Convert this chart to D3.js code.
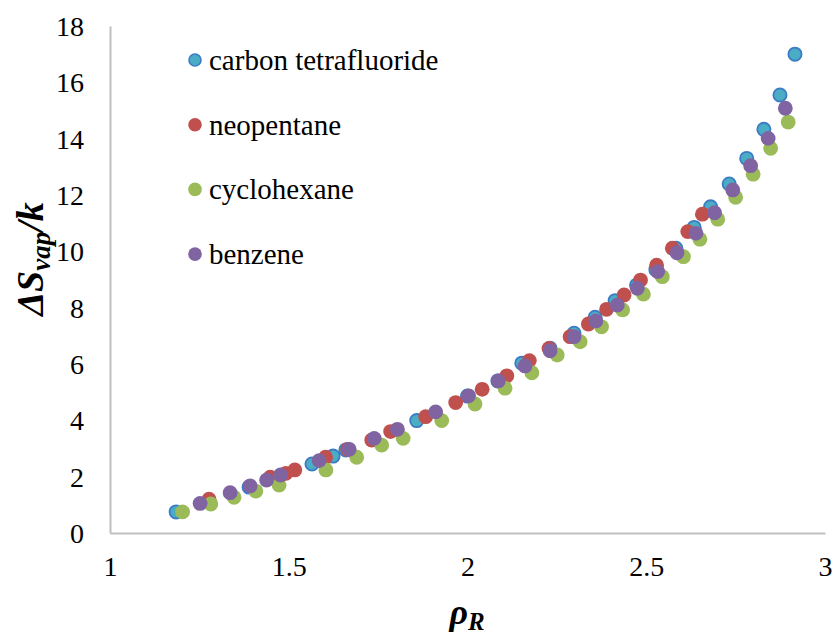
<!DOCTYPE html>
<html>
<head>
<meta charset="utf-8">
<script src="https://cdn.jsdelivr.net/npm/d3@7"></script>
<style>
  html, body { margin: 0; padding: 0; background: #fff; }
  svg { display: block; }
  text { font-family: "Liberation Serif", "Times New Roman", serif; fill: #000; }
</style>
</head>
<body>
<svg id="chart" width="834" height="639"></svg>
<script>
// ---- Data ----
const seriesNames = ["carbon tetrafluoride", "neopentane", "cyclohexane", "benzene"];
const seriesColors = ["#4bacc6", "#c0504d", "#9bbb59", "#8064a2"];

const carbonTetrafluoride = [
  [1.185, 0.75], [1.389, 1.63], [1.565, 2.45], [1.624, 2.73], [1.66, 2.95],
  [1.858, 3.99], [2.000, 4.86], [2.085, 5.40], [2.152, 6.03], [2.231, 6.56],
  [2.298, 7.09], [2.357, 7.66], [2.413, 8.25], [2.473, 8.80], [2.527, 9.35],
  [2.583, 10.11], [2.634, 10.85], [2.680, 11.58], [2.732, 12.39], [2.781, 13.30],
  [2.829, 14.33], [2.874, 15.55], [2.916, 17.00]
];
const neopentane = [
  [1.277, 1.20], [1.448, 1.98], [1.492, 2.12], [1.517, 2.24], [1.603, 2.69],
  [1.665, 2.97], [1.732, 3.30], [1.785, 3.60], [1.883, 4.13], [1.967, 4.63],
  [2.041, 5.10], [2.110, 5.58], [2.173, 6.12], [2.228, 6.55], [2.287, 6.97],
  [2.338, 7.42], [2.389, 7.94], [2.438, 8.45], [2.484, 8.98], [2.529, 9.51],
  [2.573, 10.11], [2.616, 10.70], [2.657, 11.32]
];
const cyclohexane = [
  [1.203, 0.75], [1.282, 1.03], [1.347, 1.27], [1.408, 1.49], [1.473, 1.70],
  [1.604, 2.24], [1.690, 2.69], [1.760, 3.12], [1.820, 3.36], [1.928, 3.99],
  [2.021, 4.58], [2.105, 5.14], [2.180, 5.69], [2.251, 6.32], [2.315, 6.79],
  [2.375, 7.32], [2.434, 7.92], [2.492, 8.48], [2.545, 9.10], [2.604, 9.81],
  [2.650, 10.43], [2.700, 11.14], [2.750, 11.92], [2.799, 12.74], [2.848, 13.66],
  [2.897, 14.59]
];
const benzene = [
  [1.252, 1.05], [1.336, 1.43], [1.392, 1.67], [1.438, 1.88], [1.477, 2.06],
  [1.585, 2.57], [1.669, 2.97], [1.739, 3.36], [1.804, 3.68], [1.911, 4.30],
  [2.003, 4.87], [2.086, 5.40], [2.161, 5.93], [2.231, 6.47], [2.298, 6.97],
  [2.359, 7.53], [2.419, 8.09], [2.475, 8.69], [2.532, 9.28], [2.586, 9.95],
  [2.639, 10.64], [2.691, 11.37], [2.742, 12.18], [2.792, 13.04], [2.841, 14.01],
  [2.889, 15.08]
];
const xTicks = [1, 1.5, 2, 2.5, 3];
const yTicks = [0, 2, 4, 6, 8, 10, 12, 14, 16, 18];

// ---- Layout ----
const svg = d3.select("#chart");
const plotLeft = 110, plotRight = 825, plotTop = 26, plotBottom = 533;
const x = d3.scaleLinear().domain([1, 3]).range([plotLeft, plotRight]);
const y = d3.scaleLinear().domain([0, 18]).range([plotBottom, plotTop]);
const axisColor = "#bfbfbf";

// Axes (Excel style: light gray lines, no tick marks)
const xAxis = d3.axisBottom(x).tickValues(xTicks).tickSize(0).tickPadding(23)
  .tickFormat(d => String(d));
const yAxis = d3.axisLeft(y).tickValues(yTicks).tickSize(0).tickPadding(26)
  .tickFormat(d => String(d));

const gx = svg.append("g").attr("transform", `translate(0,${plotBottom})`).call(xAxis);
const gy = svg.append("g").attr("transform", `translate(${plotLeft},0)`).call(yAxis);
[gx, gy].forEach(g => {
  g.attr("font-family", null);
  g.select(".domain").attr("stroke", axisColor).attr("stroke-width", 2);
  g.selectAll("text").style("font-family", "'Liberation Serif', 'Times New Roman', serif")
    .attr("font-size", 28).attr("fill", "#000");
});
gy.selectAll("text").attr("dy", "0.34em");

// Series
const allSeries = [carbonTetrafluoride, neopentane, cyclohexane, benzene];
allSeries.forEach((data, i) => {
  svg.append("g").selectAll("circle").data(data).join("circle")
    .attr("cx", d => x(d[0]))
    .attr("cy", d => y(d[1]))
    .attr("r", i === 0 ? 6.6 : 7.4)
    .attr("fill", seriesColors[i])
    .attr("stroke", i === 0 ? "#3b7cc4" : "none")
    .attr("stroke-width", i === 0 ? 1.8 : 0);
});

// Legend
const legend = svg.append("g");
seriesNames.forEach((name, i) => {
  const ly = 60 + i * 64.7;
  legend.append("circle").attr("cx", 195).attr("cy", ly)
    .attr("r", i === 0 ? 6 : 6.8)
    .attr("fill", seriesColors[i])
    .attr("stroke", i === 0 ? "#3b7cc4" : "none")
    .attr("stroke-width", i === 0 ? 1.6 : 0);
  legend.append("text").attr("x", 209).attr("y", ly + 10)
    .attr("font-size", 29).text(name);
});

// X axis title: ρ_R
const xt = svg.append("text").attr("x", 467).attr("y", 624)
  .attr("text-anchor", "middle")
  .attr("font-weight", "bold").attr("font-style", "italic").attr("font-size", 36);
xt.append("tspan").text("ρ");
xt.append("tspan").attr("font-size", 25).attr("dy", 6).text("R");

// Y axis title: ΔS_vap/k
const yt = svg.append("text")
  .attr("transform", "translate(43,259) rotate(-90)")
  .attr("text-anchor", "middle")
  .attr("font-weight", "bold").attr("font-style", "italic").attr("font-size", 38);
yt.append("tspan").text("ΔS");
yt.append("tspan").attr("font-size", 27).attr("dy", 7).text("vap");
yt.append("tspan").attr("dy", -7).text("/k");
</script>
</body>
</html>
